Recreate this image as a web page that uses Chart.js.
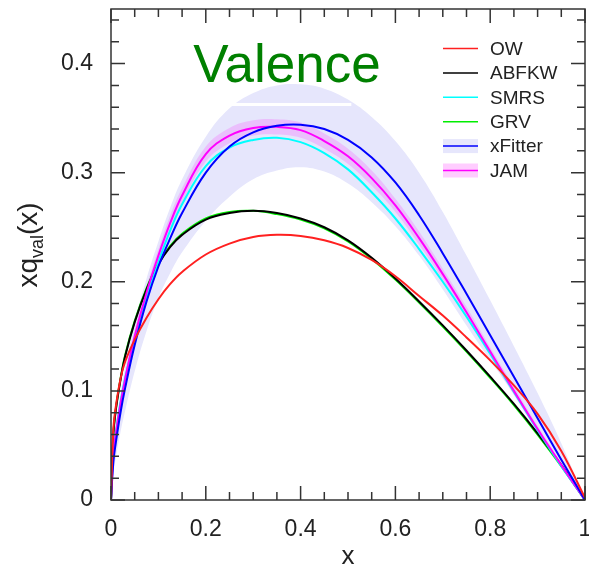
<!DOCTYPE html>
<html><head><meta charset="utf-8">
<script src="https://cdn.jsdelivr.net/npm/chart.js@4/dist/chart.umd.min.js"></script>
<style>html,body{margin:0;padding:0;background:#fff;} #wrap{width:589px;height:568px;}</style>
</head><body><div id="wrap"><canvas id="c" width="589" height="568"></canvas></div>
<script>
// ---- data ----
const xGrid   = [0, 0.005, 0.01, 0.02, 0.03, 0.05, 0.075, 0.1, 0.125, 0.15, 0.2, 0.25, 0.3, 0.35, 0.4, 0.45, 0.5, 0.55, 0.6, 0.65, 0.7, 0.75, 0.8, 0.85, 0.9, 0.95, 1.0];
const owVals    = [0, 0.065, 0.085, 0.111, 0.127, 0.147, 0.167, 0.184, 0.198, 0.209, 0.225, 0.235, 0.241, 0.243, 0.242, 0.238, 0.231, 0.220, 0.205, 0.187, 0.169, 0.149, 0.128, 0.105, 0.079, 0.045, 0.002];
const abfkwVals = [0, 0.060, 0.082, 0.110, 0.132, 0.163, 0.193, 0.216, 0.232, 0.243, 0.257, 0.263, 0.265, 0.263, 0.258, 0.250, 0.238, 0.222, 0.203, 0.182, 0.160, 0.137, 0.113, 0.088, 0.061, 0.032, 0.0];
const grvVals   = [0, 0.061, 0.083, 0.111, 0.133, 0.164, 0.194, 0.217, 0.233, 0.244, 0.258, 0.264, 0.265, 0.262, 0.257, 0.249, 0.237, 0.221, 0.202, 0.181, 0.159, 0.136, 0.112, 0.087, 0.060, 0.031, 0.0];
const smrsVals  = [0, 0.045, 0.062, 0.090, 0.112, 0.148, 0.186, 0.218, 0.247, 0.271, 0.306, 0.323, 0.330, 0.332, 0.328, 0.318, 0.303, 0.282, 0.258, 0.230, 0.200, 0.168, 0.134, 0.099, 0.064, 0.031, 0.0];
const xfVals    = [0, 0.035, 0.052, 0.080, 0.103, 0.142, 0.182, 0.214, 0.240, 0.263, 0.300, 0.324, 0.337, 0.343, 0.344, 0.340, 0.330, 0.314, 0.291, 0.261, 0.226, 0.189, 0.151, 0.113, 0.075, 0.037, 0.0];
const xfUpper   = [0, 0.045, 0.065, 0.097, 0.122, 0.163, 0.203, 0.237, 0.268, 0.294, 0.333, 0.359, 0.373, 0.380, 0.381, 0.377, 0.367, 0.351, 0.329, 0.300, 0.264, 0.224, 0.183, 0.141, 0.098, 0.052, 0.0];
const xfLower   = [0, 0.025, 0.038, 0.062, 0.082, 0.118, 0.155, 0.185, 0.208, 0.227, 0.256, 0.278, 0.294, 0.302, 0.305, 0.301, 0.290, 0.273, 0.251, 0.224, 0.193, 0.160, 0.128, 0.097, 0.066, 0.033, 0.0];
const jamVals   = [0, 0.042, 0.060, 0.088, 0.111, 0.150, 0.190, 0.224, 0.254, 0.279, 0.317, 0.334, 0.341, 0.342, 0.339, 0.329, 0.315, 0.295, 0.270, 0.240, 0.207, 0.172, 0.136, 0.100, 0.065, 0.032, 0.0];
const jamUpper  = [0, 0.044, 0.063, 0.092, 0.116, 0.156, 0.196, 0.230, 0.261, 0.286, 0.324, 0.341, 0.348, 0.349, 0.346, 0.336, 0.322, 0.302, 0.276, 0.246, 0.212, 0.177, 0.140, 0.104, 0.068, 0.034, 0.0];
const jamLower  = [0, 0.040, 0.057, 0.084, 0.106, 0.144, 0.184, 0.218, 0.247, 0.272, 0.310, 0.327, 0.334, 0.335, 0.332, 0.322, 0.308, 0.288, 0.264, 0.234, 0.202, 0.167, 0.132, 0.096, 0.062, 0.030, 0.0];
const xTickLabels = [0, 0.2, 0.4, 0.6, 0.8, 1];
const yTickLabels = [0, 0.1, 0.2, 0.3, 0.4];
const legendNames = ['OW', 'ABFKW', 'SMRS', 'GRV', 'xFitter', 'JAM'];
const titleText = 'Valence';

// ---- styles ----
const FONT = '"Liberation Sans", Arial, Helvetica, sans-serif';
const LAV = 'rgb(230,230,252)';
const PINK = 'rgba(255,0,255,0.17)';
const PINK_BOX = 'rgb(255,205,255)';

function pts(ys){ return xGrid.map((x,i)=>({x:x, y:ys[i]})); }
function line(label, ys, color, order, extra){
  return Object.assign({label, data: pts(ys), borderColor: color, backgroundColor: color, borderWidth: 2,
    pointRadius: 0, fill: false, tension: 0.4, order}, extra||{});
}

const datasets = [
  line('xfLo', xfLower, 'rgba(0,0,0,0)', 20, {borderWidth: 0}),
  line('xfHi', xfUpper, 'rgba(0,0,0,0)', 19, {borderWidth: 0, fill: '-1', backgroundColor: LAV}),
  line('jamLo', jamLower, 'rgba(0,0,0,0)', 18, {borderWidth: 0}),
  line('jamHi', jamUpper, 'rgba(0,0,0,0)', 17, {borderWidth: 0, fill: '-1', backgroundColor: PINK}),
  line('GRV', grvVals, '#00ee00', 10, {legend: 3}),
  line('ABFKW', abfkwVals, '#000000', 9, {legend: 1}),
  line('SMRS', smrsVals, '#00ffff', 8, {legend: 2}),
  line('JAM', jamVals, '#ff00ff', 7, {legend: 5, box: PINK_BOX}),
  line('xFitter', xfVals, '#0000ff', 6, {legend: 4, box: LAV}),
  line('OW', owVals, '#ff2020', 5, {legend: 0}),
];

function fmt(v){
  const r = Math.round(v*10);
  if (Math.abs(v*10 - r) > 1e-6) return '';
  return String(+(r/10).toFixed(1));
}

const decor = {
  id: 'decor',
  afterDatasetsDraw(chart){
    const ctx = chart.ctx, a = chart.chartArea, xs = chart.scales.x, ys = chart.scales.y;
    ctx.save();
    // white strip artifact
    ctx.strokeStyle = '#ffffff'; ctx.lineWidth = 3;
    ctx.beginPath();
    ctx.moveTo(xs.getPixelForValue(0.245), ys.getPixelForValue(0.3625));
    ctx.lineTo(xs.getPixelForValue(0.507), ys.getPixelForValue(0.3625));
    ctx.stroke();
    // frame
    ctx.strokeStyle = '#333'; ctx.lineWidth = 1.5;
    ctx.strokeRect(a.left, a.top, a.right - a.left, a.bottom - a.top);
    // inward ticks
    ctx.beginPath();
    for (let i = 0; i <= 20; i++) {
      const v = i*0.05, p = xs.getPixelForValue(v);
      const L = (i % 4 === 0) ? 14 : 8;
      ctx.moveTo(p, a.bottom); ctx.lineTo(p, a.bottom - L);
      ctx.moveTo(p, a.top); ctx.lineTo(p, a.top + L);
    }
    for (let i = 0; i <= 22; i++) {
      const v = i*0.02, p = ys.getPixelForValue(v);
      const L = (i % 5 === 0) ? 14 : 8;
      ctx.moveTo(a.left, p); ctx.lineTo(a.left + L, p);
      ctx.moveTo(a.right, p); ctx.lineTo(a.right - L, p);
    }
    ctx.stroke();
    // title
    ctx.fillStyle = 'rgb(0,128,0)';
    ctx.font = '53px ' + FONT;
    ctx.textAlign = 'center'; ctx.textBaseline = 'alphabetic';
    ctx.fillText(titleText, 287, 82);
    // legend
    const items = chart.data.datasets.filter(d => d.legend !== undefined).sort((p,q)=>p.legend-q.legend);
    ctx.font = '19px ' + FONT; ctx.textAlign = 'left'; ctx.textBaseline = 'middle';
    items.forEach((d, i) => {
      const y = 48.5 + i*24.4;
      if (d.box) { ctx.fillStyle = d.box; ctx.fillRect(443, y - 7, 35, 14); }
      ctx.strokeStyle = d.borderColor; ctx.lineWidth = 1.5;
      ctx.beginPath(); ctx.moveTo(443, y); ctx.lineTo(478, y); ctx.stroke();
      ctx.fillStyle = '#222';
      ctx.fillText(legendNames[d.legend], 490, y + 1);
    });
    // x-axis title
    ctx.fillStyle = '#222'; ctx.font = '26px ' + FONT; ctx.textAlign = 'center'; ctx.textBaseline = 'alphabetic';
    ctx.fillText('x', 348, 564);
    // y-axis title with subscript
    ctx.translate(37, 245); ctx.rotate(-Math.PI/2);
    ctx.textAlign = 'left';
    const big = '28px ' + FONT, small = '18px ' + FONT;
    ctx.font = big; const w1 = ctx.measureText('xq').width, w3 = ctx.measureText('(x)').width;
    ctx.font = small; const w2 = ctx.measureText('val').width;
    let x0 = -(w1 + w2 + w3)/2;
    ctx.font = big; ctx.fillText('xq', x0, 0); x0 += w1;
    ctx.font = small; ctx.fillText('val', x0, 6); x0 += w2;
    ctx.font = big; ctx.fillText('(x)', x0, 0);
    ctx.restore();
  }
};

new Chart(document.getElementById('c'), {
  type: 'line',
  data: { datasets },
  options: {
    responsive: false, animation: false, devicePixelRatio: 1,
    layout: { padding: { left: 0, right: 4, top: 9, bottom: 0 } },
    plugins: { legend: { display: false }, tooltip: { enabled: false }, title: { display: false } },
    scales: {
      x: {
        type: 'linear', min: 0, max: 1,
        grid: { display: false }, border: { display: false },
        ticks: { stepSize: 0.2, autoSkip: false, maxRotation: 0, padding: 8, color: '#222',
                 font: { family: FONT, size: 23 }, callback: v => fmt(v) },
        afterFit: s => { s.height = 68; s.paddingLeft = 0; s.paddingRight = 0; }
      },
      y: {
        type: 'linear', min: 0, max: 0.45,
        grid: { display: false }, border: { display: false },
        ticks: { stepSize: 0.1, autoSkip: false, padding: 10, color: '#222',
                 font: { family: FONT, size: 23 }, callback: v => fmt(v) },
        afterFit: s => { s.width = 111; s.paddingTop = 0; s.paddingBottom = 0; }
      }
    }
  },
  plugins: [decor]
});
</script></body></html>
